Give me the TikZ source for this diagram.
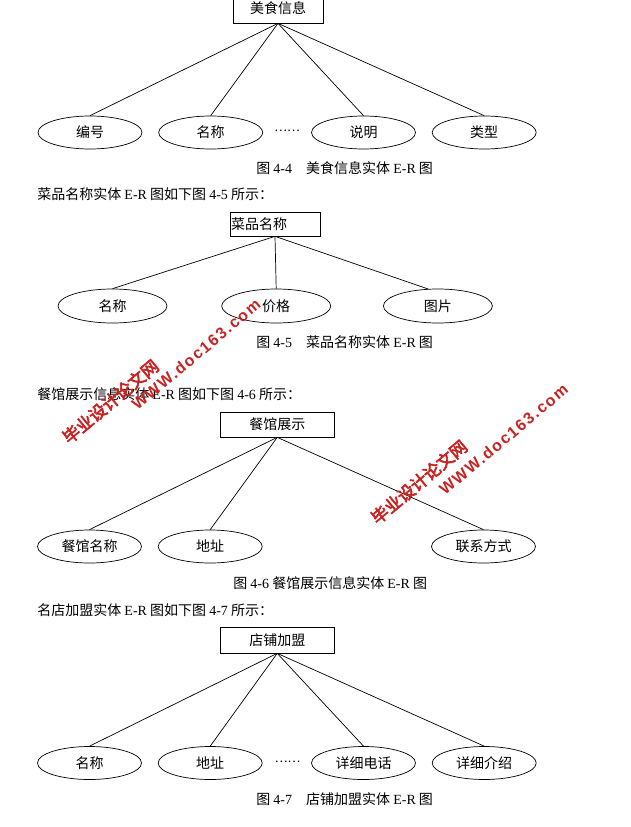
\documentclass[tikz,border=0pt]{standalone}
\usepackage{fontspec}
\setmainfont{Liberation Serif}
\newfontfamily\cjk{Noto Sans CJK SC}
\newfontfamily\wmcjk[FakeBold=3.5]{Noto Sans CJK SC}
\newfontfamily\wmlatin[LetterSpace=10]{Liberation Sans}
\usetikzlibrary{shapes.geometric,positioning}
\definecolor{wmred}{RGB}{200,35,35}
\newcommand{\lat}[1]{{\rmfamily #1}}

\begin{document}
\begin{tikzpicture}[x=1pt,y=-1pt,line width=0.7pt,node distance=16pt,font=\cjk\fontsize{14}{16}\selectfont]
	\tikzstyle{entity}=[draw,rectangle,minimum width=113.5pt,minimum height=25pt,inner sep=0pt]
	\tikzstyle{attr}=[draw,ellipse,minimum width=104pt,minimum height=33pt,inner sep=0pt]
	\tikzstyle{caption}=[anchor=west,inner sep=0pt]
	\tikzstyle{wmark}=[text=wmred,rotate=40,inner sep=0pt]

	\useasboundingbox (0,0) rectangle (631,827);

	\node[entity,minimum width=90pt,minimum height=30pt] (MS) at (278,8) {美食信息};
	\node[attr] (MS1) at (90,132.5) {编号};
	\node[attr] (MS2) [right = of MS1] {名称};
	\node (MSD) at (287,131) {\fontsize{12}{14}\selectfont ……};
	\node[attr] (MS3) at (363.5,132.5) {说明};
	\node[attr] (MS4) [right = of MS3] {类型};
	\node[caption] (MSC) at (256,168) {图 \lat{4-4}　美食信息实体 \lat{E-R} 图};

	\path (MS.south) edge (MS1.north);
	\path (MS.south) edge (MS2.north);
	\path (MS.south) edge (MS3.north);
	\path (MS.south) edge (MS4.north);

	\node[caption] (T1) at (37,194) {菜品名称实体 \lat{E-R} 图如下图 \lat{4-5} 所示：};

	\node[entity,minimum width=90pt,minimum height=24pt,text width=88pt,align=left,inner xsep=1pt] (CP) at (275,224) {菜品名称};
	\node[attr,minimum width=109pt,minimum height=34pt] (CP1) at (112.5,306) {名称};
	\node[attr,minimum width=109pt,minimum height=34pt] (CP2) [right = 54pt of CP1] {价格};
	\node[attr,minimum width=109pt,minimum height=34pt] (CP3) [right = 52pt of CP2] {图片};
	\node[caption] (CPC) at (256,342) {图 \lat{4-5}　菜品名称实体 \lat{E-R} 图};

	\path (CP.south) edge (CP1.north);
	\path (CP.south) edge (CP2.north);
	\path (CP.south) edge (CP3.120);

	\node[caption] (T2) at (37,394) {餐馆展示信息实体 \lat{E-R} 图如下图 \lat{4-6} 所示：};

	\node[entity] (CG) at (277.25,424.5) {餐馆展示};
	\node[attr] (CG1) at (89.5,546.5) {餐馆名称};
	\node[attr] (CG2) [right = of CG1] {地址};
	\node[attr] (CG3) at (483.5,546.5) {联系方式};
	\node[caption] (CGC) at (233,583) {图 \lat{4-6} 餐馆展示信息实体 \lat{E-R} 图};

	\path (CG.south) edge (CG1.north);
	\path (CG.south) edge (CG2.north);
	\path (CG.south) edge (CG3.north);

	\node[caption] (T3) at (37,610) {名店加盟实体 \lat{E-R} 图如下图 \lat{4-7} 所示：};

	\node[entity,minimum height=26pt] (DP) at (277.25,640) {店铺加盟};
	\node[attr] (DP1) at (89.5,763) {名称};
	\node[attr] (DP2) [right = of DP1] {地址};
	\node (DPD) at (287.5,762) {\fontsize{12}{14}\selectfont ……};
	\node[attr] (DP3) at (363.5,763) {详细电话};
	\node[attr] (DP4) [right = of DP3] {详细介绍};
	\node[caption] (DPC) at (256,799) {图 \lat{4-7}　店铺加盟实体 \lat{E-R} 图};

	\path (DP.south) edge (DP1.north);
	\path (DP.south) edge (DP2.north);
	\path (DP.south) edge (DP3.north);
	\path (DP.south) edge (DP4.north);

	\node[wmark,font=\wmcjk\fontsize{17}{19}\selectfont] (WM1A) at (110.5,401.5) {毕业设计论文网};
	\node[wmark,font=\wmlatin\bfseries\fontsize{16}{18}\selectfont] (WM1B) at (196,354.5) {WWW.doc163.com};
	\node[wmark,font=\wmcjk\fontsize{17}{19}\selectfont] (WM2A) at (419,482) {毕业设计论文网};
	\node[wmark,font=\wmlatin\bfseries\fontsize{16}{18}\selectfont] (WM2B) at (503.5,439.5) {WWW.doc163.com};
\end{tikzpicture}
\end{document}
